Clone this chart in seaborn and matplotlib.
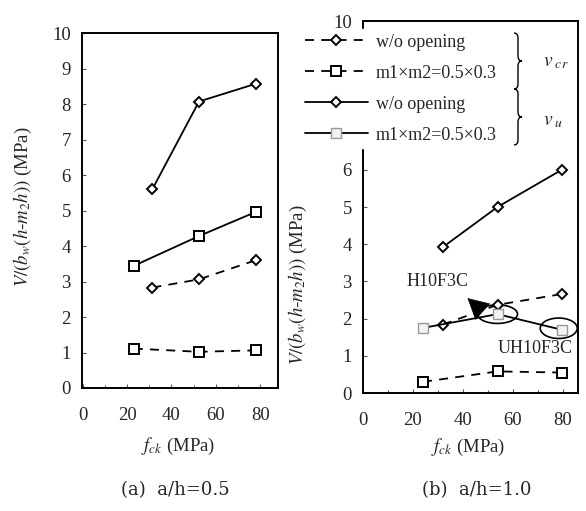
import numpy as np
import pandas as pd
import seaborn as sns
import matplotlib.pyplot as plt
from matplotlib.lines import Line2D
from matplotlib.patches import Ellipse, PathPatch
from matplotlib.path import Path

# panel (a) a/h=0.5
a_fck_sq = [23, 52.4, 78]
a_fck_di = [31.4, 52.4, 78]
a_vu_wo = [5.6, 8.07, 8.57]
a_vu_op = [3.44, 4.28, 4.96]
a_vcr_wo = [2.83, 3.06, 3.6]
a_vcr_op = [1.11, 1.02, 1.06]

# panel (b) a/h=1.0
b_fck_sq = [24, 53.8, 79.5]
b_fck_di = [31.9, 53.8, 79.5]
b_vu_wo = [3.92, 5.0, 6.0]
b_vu_op = [1.75, 2.12, 1.70]
b_vcr_wo = [1.84, 2.37, 2.66]
b_vcr_op = [0.30, 0.58, 0.55]

legend_labels = ["w/o opening", "m1\u00d7m2=0.5\u00d70.3",
                 "w/o opening", "m1\u00d7m2=0.5\u00d70.3"]

sns.set_style("ticks")
plt.rcParams['font.family'] = ['Liberation Serif', 'DejaVu Serif']
plt.rcParams['mathtext.fontset'] = 'stix'

W, H = 586, 511
fig = plt.figure(figsize=(W / 100, H / 100), dpi=100)


def px_axes(x0, y0, x1, y1):
    return fig.add_axes([x0 / W, 1 - y1 / H, (x1 - x0) / W, (y1 - y0) / H])


ax1 = px_axes(82, 33, 278, 388)
ax2 = px_axes(363, 21, 578, 393)

dash = (5, 4)
styles = [
    dict(linestyle='-', marker='D', markersize=5.3, mfc='white', mec='black', mew=1.4),
    dict(linestyle='-', marker='s', markersize=6.8, mfc='white', mec='black', mew=1.4),
    dict(linestyle=(0, dash), marker='D', markersize=5.3, mfc='white', mec='black', mew=1.4),
    dict(linestyle=(0, dash), marker='s', markersize=6.8, mfc='white', mec='black', mew=1.4),
]


def draw(ax, xs, ys, st):
    df = pd.DataFrame({'x': xs, 'y': ys})
    sns.lineplot(data=df, x='x', y='y', ax=ax, color='black', lw=1.3,
                 sort=False, **st)


draw(ax1, a_fck_di, a_vu_wo, styles[0])
draw(ax1, a_fck_sq, a_vu_op, styles[1])
draw(ax1, a_fck_di, a_vcr_wo, styles[2])
draw(ax1, a_fck_sq, a_vcr_op, styles[3])

st_b = dict(styles[1])
st_b.update(mfc='#f2f2f2', mec='#9a9a9a', mew=1.0, markersize=6.5)
draw(ax2, b_fck_di, b_vu_wo, styles[0])
draw(ax2, b_fck_di, b_vcr_wo, styles[2])
draw(ax2, b_fck_sq, b_vu_op, st_b)
draw(ax2, b_fck_sq, b_vcr_op, styles[3])

ylab = r"$V/(b_w(h$-$m_2h))$ (MPa)"
for ax, xmax in [(ax1, 88), (ax2, 86)]:
    ax.set_xlim(-0.3 if ax is ax1 else 0, xmax)
    ax.set_ylim(0, 10)
    ax.set_xticks([0, 20, 40, 60, 80])
    ax.set_xticks(np.arange(0, 90, 10), minor=True)
    ax.set_yticks(range(0, 11))
    ax.tick_params(axis='both', which='both', direction='in', labelsize=13.5,
                   width=0.8, color='#555555', pad=14)
    ax.tick_params(axis='y', pad=8, length=3)
    ax.tick_params(axis='x', which='major', length=3)
    ax.tick_params(axis='x', which='minor', length=2)
    for s in ax.spines.values():
        s.set_visible(True)
        s.set_color('black')
        s.set_linewidth(1.4)
    ax.set_xlabel(r"$f_{ck}$ (MPa)", fontsize=13.5)
    ax.set_ylabel(ylab, fontsize=13.5)

ax1.xaxis.set_label_coords(0.49, -0.135)
ax1.yaxis.set_label_coords(-0.245, 0.51)
ax2.xaxis.set_label_coords(0.49, -0.118)
ax2.yaxis.set_label_coords(-0.25, 0.29)

# annotations on panel (b)
ax2.add_patch(Ellipse((53.8, 2.12), 16, 0.5, fill=False, ec='black', lw=1.2))
ax2.add_patch(Ellipse((78.3, 1.74), 14.8, 0.55, fill=False, ec='black', lw=1.2))
ax2.text(30, 3.0, "H10F3C", fontsize=13, ha='center', va='center')
ax2.text(69, 1.2, "UH10F3C", fontsize=13, ha='center', va='center')
ax2.annotate("", xy=(41.8, 2.55), xytext=(46.3, 2.28),
             arrowprops=dict(arrowstyle='-|>,head_length=1.4,head_width=0.75',
                             mutation_scale=10, shrinkA=0, shrinkB=0,
                             color='black', lw=0.5))

# legend
handles = [
    Line2D([], [], color='black', lw=1.3, **styles[2]),
    Line2D([], [], color='black', lw=1.3, **styles[3]),
    Line2D([], [], color='black', lw=1.3, **styles[0]),
    Line2D([], [], color='black', lw=1.3, **st_b),
]
leg = ax2.legend(handles, legend_labels, loc='upper left',
                 bbox_to_anchor=(300 / W, 1 - 29 / H), bbox_transform=fig.transFigure,
                 fontsize=13, handlelength=3.5, handletextpad=0.45, labelspacing=0.78,
                 borderpad=0.25, borderaxespad=0, frameon=True, fancybox=False,
                 facecolor='white', edgecolor='white', framealpha=1)
leg.set_zorder(10)


def brace(x, y0, y1, w):
    ym = (y0 + y1) / 2
    q = 5
    xm = x + w / 2
    verts = [(x, y0), (xm, y0), (xm, y0 + q), (xm, ym - q), (xm, ym), (x + w, ym),
             (xm, ym), (xm, ym + q), (xm, y1 - q), (xm, y1), (x, y1)]
    codes = [Path.MOVETO, Path.CURVE3, Path.CURVE3, Path.LINETO, Path.CURVE3, Path.CURVE3,
             Path.CURVE3, Path.CURVE3, Path.LINETO, Path.CURVE3, Path.CURVE3]
    verts = [(vx / W, 1 - vy / H) for vx, vy in verts]
    fig.patches.append(PathPatch(Path(verts, codes), fill=False, lw=1.0, ec='black',
                                 transform=fig.transFigure))


brace(514, 33, 89, 8)
brace(514, 89, 145, 8)
fig.text(543 / W, 1 - 62 / H, r"$v_{\ cr}$", fontsize=14, ha='left', va='center')
fig.text(543 / W, 1 - 122 / H, r"$v_{\ u}$", fontsize=14, ha='left', va='center')

fig.text(175 / W, 1 - 490 / H, "(a)  a/h=0.5", fontsize=13, family='DejaVu Serif',
         ha='center', va='center')
fig.text(477 / W, 1 - 490 / H, "(b)  a/h=1.0", fontsize=13, family='DejaVu Serif',
         ha='center', va='center')

fig.savefig("out.png", dpi=100, facecolor='white')
